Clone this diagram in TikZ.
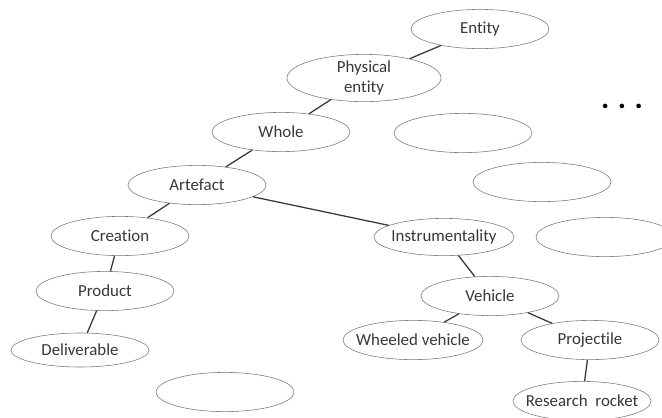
\documentclass[tikz,border=0pt]{standalone}
\usepackage{fontspec}
\setmainfont{Carlito}[Ligatures=NoCommon]
\usepackage{tikz}
\usetikzlibrary{shapes}

\definecolor{rimGray}{RGB}{120,120,120}
\definecolor{inkGray}{RGB}{55,55,55}

\tikzstyle{concept} = [ellipse, draw=rimGray, thin, text=inkGray, inner xsep=-0.4cm,
inner ysep=-0.15cm, minimum width=3.45cm, minimum height=0.98cm, font=\fontsize{12}{14}\selectfont]
\tikzstyle{bigConcept} = [concept, minimum width=3.85cm, minimum height=1.18cm, align=center]
\tikzstyle{link} = [draw, inkGray, line width=0.9pt]

\begin{document}
\begin{tikzpicture}[x=0.025cm, y=-0.025cm]

   \useasboundingbox (0,0) rectangle (662,417);

   %% Upper part of the hierarchy
   \node[concept] (entity) at (480,29) {Entity};
   \node[bigConcept] (physEntity) at (364,78) {Physical\\entity};
   \node[concept] (whole) at (281,132) {Whole};
   \node[concept] (artefact) at (197,185) {Artefact};

   % Empty siblings
   \node[concept] (empty1) at (463,133) {};
   \node[concept] (empty2) at (542,182) {};
   \node[concept] (empty3) at (605,237) {};
   \node[concept] (empty4) at (225,392) {};

   \node (moreDots) at (622,106) {\fontsize{22}{22}\selectfont\textbf{.\hspace{6pt}.\hspace{6pt}.}};

   %% Left branch
   \node[concept] (creation) at (120,236) {Creation};
   \node[concept] (product) at (105,291) {Product};
   \node[concept, minimum height=0.85cm] (deliverable) at (80,350) {Deliverable};

   %% Right branch
   \node[concept, minimum width=3.5cm, minimum height=0.93cm] (instrument) at (444,237) {Instrumentality};
   \node[concept] (vehicle) at (490,296) {Vehicle};
   \node[concept, minimum width=3.5cm] (wheeled) at (413,340) {Wheeled vehicle};
   \node[concept] (projectile) at (590,340) {Projectile};
   \node[concept] (rocket) at (582,401) {Research\ \ rocket};

   %% Lines
   \path[link] (entity) -- (physEntity);
   \path[link] (physEntity) -- (whole);
   \path[link] (whole) -- (artefact);
   \path[link] (artefact) -- (creation);
   \path[link] (artefact) -- (instrument);
   \path[link] (creation) -- (product);
   \path[link] (product) -- (deliverable);
   \path[link] (instrument) -- (vehicle);
   \path[link] (vehicle) -- (wheeled);
   \path[link] (vehicle) -- (projectile);
   \path[link] (projectile) -- (rocket);

\end{tikzpicture}
\end{document}
